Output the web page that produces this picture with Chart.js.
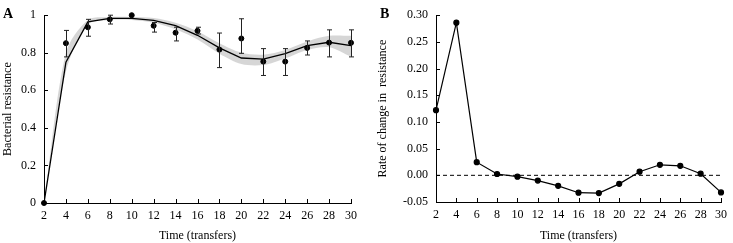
<!DOCTYPE html>
<html>
<head>
<meta charset="utf-8">
<script src="https://cdn.jsdelivr.net/npm/chart.js@4"></script>
<style>
  body { margin: 0; background: #fff; width: 733px; height: 243px; overflow: hidden; position: relative; }
  canvas { position: absolute; top: 0; }
  #chartA { left: 0; }
  #chartB { left: 365px; }
  .panel-tag { position: absolute; font: bold 14px "Liberation Serif", serif; color: #000; }
</style>
</head>
<body>
<canvas id="chartA" width="365" height="243"></canvas>
<canvas id="chartB" width="368" height="243"></canvas>
<div class="panel-tag" style="left:3px;top:6px;">A</div>
<div class="panel-tag" style="left:380px;top:6px;">B</div>
<script>
const transfers = [2, 4, 6, 8, 10, 12, 14, 16, 18, 20, 22, 24, 26, 28, 30];

// panel A: observed resistance with error bars, model fit and its band
const resistanceObs = [0, 0.851, 0.936, 0.978, 1.0, 0.944, 0.907, 0.917, 0.817, 0.876, 0.753, 0.753, 0.826, 0.854, 0.853];
const errHigh = [0, 0.919, 0.978, 1.0, 1.0, 0.961, 0.936, 0.936, 0.905, 0.981, 0.822, 0.822, 0.863, 0.922, 0.922];
const errLow = [0, 0.778, 0.888, 0.953, 1.0, 0.910, 0.863, 0.900, 0.721, 0.797, 0.679, 0.679, 0.788, 0.778, 0.778];
const modelFit = [0, 0.75, 0.964, 0.983, 0.983, 0.973, 0.944, 0.893, 0.826, 0.772, 0.766, 0.795, 0.838, 0.856, 0.838];
const bandUpper = [0, 0.80, 0.975, 0.99, 0.99, 0.985, 0.96, 0.915, 0.85, 0.80, 0.79, 0.815, 0.86, 0.89, 0.89];
const bandLower = [0, 0.70, 0.95, 0.975, 0.975, 0.96, 0.925, 0.87, 0.795, 0.74, 0.735, 0.77, 0.815, 0.83, 0.78];
const yTicksA = [0, 0.2, 0.4, 0.6, 0.8, 1];

// panel B: rate of change in resistance
const rateChange = [0.122, 0.286, 0.0246, 0.0025, -0.0025, -0.0098, -0.0197, -0.0326, -0.0332, -0.016, 0.0068, 0.0197, 0.0178, 0.003, -0.032];
const zeroLine = [0, 0];
const zeroLineX = [2, 30];
const yTicksB = [-0.05, 0, 0.05, 0.1, 0.15, 0.2, 0.25, 0.3];

const FONT = { family: "'Liberation Serif', 'Times New Roman', serif", size: 12 };
const pts = (ys, xs = transfers) => xs.map((x, i) => ({ x, y: ys[i] }));

// inward tick marks on both axes
const innerTicks = {
  id: "innerTicks",
  afterDatasetsDraw(chart) {
    const { ctx, scales } = chart;
    const area = chart.chartArea;
    ctx.save();
    ctx.strokeStyle = "#000";
    ctx.lineWidth = 1;
    ctx.beginPath();
    scales.x.ticks.forEach((t) => {
      const px = Math.round(scales.x.getPixelForValue(t.value)) + 0.5;
      ctx.moveTo(px, area.bottom);
      ctx.lineTo(px, area.bottom - 4);
    });
    scales.y.ticks.forEach((t) => {
      const py = Math.round(scales.y.getPixelForValue(t.value)) + 0.5;
      ctx.moveTo(area.left, py);
      ctx.lineTo(area.left + 4, py);
    });
    ctx.stroke();
    ctx.restore();
  },
};

const errorBars = {
  id: "errorBars",
  afterDatasetsDraw(chart) {
    const { ctx, scales } = chart;
    ctx.save();
    ctx.strokeStyle = "#222";
    ctx.lineWidth = 1;
    ctx.beginPath();
    transfers.forEach((x, i) => {
      if (errHigh[i] === errLow[i]) return;
      const px = Math.round(scales.x.getPixelForValue(x)) + 0.5;
      const top = scales.y.getPixelForValue(errHigh[i]);
      const bot = scales.y.getPixelForValue(errLow[i]);
      ctx.moveTo(px, top);
      ctx.lineTo(px, bot);
      ctx.moveTo(px - 2.5, top);
      ctx.lineTo(px + 2.5, top);
      ctx.moveTo(px - 2.5, bot);
      ctx.lineTo(px + 2.5, bot);
    });
    ctx.stroke();
    ctx.restore();
  },
};

function xScale(height) {
  return {
    type: "linear",
    min: 2,
    max: 30,
    afterBuildTicks(scale) {
      scale.ticks = transfers.map((v) => ({ value: v }));
    },
    afterFit(scale) {
      scale.height = height;
    },
    grid: { display: false, drawTicks: false },
    border: { display: true, color: "#000", width: 1 },
    ticks: { color: "#000", font: FONT, padding: 6, maxRotation: 0, autoSkip: false },
    title: { display: true, text: "Time (transfers)", color: "#000", font: FONT, padding: { top: 4, bottom: 0 } },
  };
}

function yScale(width, min, max, tickList, fmt, title) {
  return {
    type: "linear",
    min,
    max,
    afterBuildTicks(scale) {
      scale.ticks = tickList.map((v) => ({ value: v }));
    },
    afterFit(scale) {
      scale.width = width;
    },
    grid: { display: false, drawTicks: false },
    border: { display: true, color: "#000", width: 1 },
    ticks: { color: "#000", font: FONT, padding: 8, callback: fmt },
    title: { display: true, text: title, color: "#000", font: FONT, padding: { top: 0, bottom: 2 } },
  };
}

new Chart(document.getElementById("chartA"), {
  type: "line",
  data: {
    datasets: [
      {
        data: pts(bandUpper),
        borderWidth: 0,
        pointRadius: 0,
        backgroundColor: "rgba(200,200,200,0.75)",
        fill: "+1",
        tension: 0.3,
        order: 3,
      },
      {
        data: pts(bandLower),
        borderWidth: 0,
        pointRadius: 0,
        fill: false,
        tension: 0.3,
        order: 3,
      },
      {
        data: pts(modelFit),
        borderColor: "#000",
        borderWidth: 1.3,
        pointRadius: 0,
        fill: false,
        tension: 0,
        order: 1,
      },
      {
        data: pts(resistanceObs),
        showLine: false,
        pointRadius: 2.5,
        pointBackgroundColor: "#000",
        pointBorderColor: "#000",
        clip: false,
        order: 0,
      },
    ],
  },
  options: {
    responsive: false,
    animation: false,
    layout: { padding: { top: 6, right: 14, left: 1, bottom: 0 } },
    plugins: { legend: { display: false }, tooltip: { enabled: false } },
    scales: {
      x: xScale(40),
      y: yScale(43, 0, 1, yTicksA, (v) => String(v), "Bacterial resistance"),
    },
  },
  plugins: [errorBars, innerTicks],
});

new Chart(document.getElementById("chartB"), {
  type: "line",
  data: {
    datasets: [
      {
        data: pts(zeroLine, zeroLineX),
        borderColor: "#000",
        borderWidth: 1,
        borderDash: [4, 3],
        pointRadius: 0,
        fill: false,
      },
      {
        data: pts(rateChange),
        borderColor: "#000",
        borderWidth: 1.2,
        pointRadius: 2.5,
        pointBackgroundColor: "#000",
        pointBorderColor: "#000",
        fill: false,
        tension: 0,
        clip: false,
      },
    ],
  },
  options: {
    responsive: false,
    animation: false,
    layout: { padding: { top: 12, right: 8, left: 11, bottom: 0 } },
    plugins: { legend: { display: false }, tooltip: { enabled: false } },
    scales: {
      x: xScale(41),
      y: yScale(60, -0.05, 0.3, yTicksB, (v) => v.toFixed(2), "Rate of change in  resistance"),
    },
  },
  plugins: [innerTicks],
});
</script>
</body>
</html>
